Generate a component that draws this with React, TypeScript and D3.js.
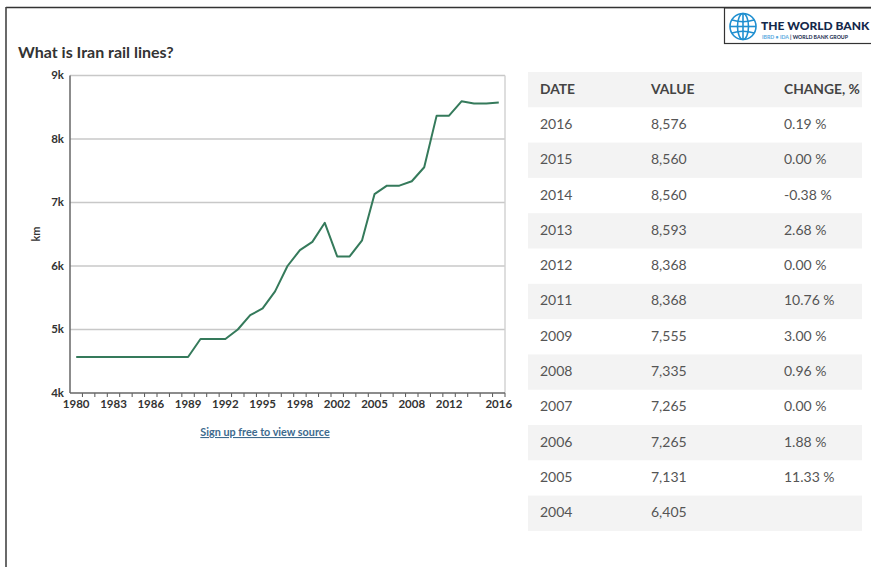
import React, { useEffect, useRef } from "react";
import * as d3 from "d3";

const years = [
  1980, 1981, 1982, 1983, 1984, 1985, 1986, 1987, 1988, 1989, 1990, 1991,
  1992, 1993, 1994, 1995, 1996, 1997, 1998, 1999, 2000, 2002, 2003, 2004,
  2005, 2006, 2007, 2008, 2009, 2011, 2012, 2013, 2014, 2015, 2016,
];
const railKm = [
  4567, 4567, 4567, 4567, 4567, 4567, 4567, 4567, 4567, 4567, 4850, 4850,
  4850, 5000, 5225, 5333, 5600, 6000, 6250, 6380, 6680, 6150, 6150, 6405,
  7131, 7265, 7265, 7335, 7555, 8368, 8368, 8593, 8560, 8560, 8576,
];
const yTicks = [4000, 5000, 6000, 7000, 8000, 9000];
const xLabelYears = [1980, 1983, 1986, 1989, 1992, 1995, 1998, 2002, 2005, 2008, 2012, 2016];

const tableHeader = ["DATE", "VALUE", "CHANGE, %"];
const tableDates = ["2016", "2015", "2014", "2013", "2012", "2011", "2009", "2008", "2007", "2006", "2005", "2004"];
const tableValues = ["8,576", "8,560", "8,560", "8,593", "8,368", "8,368", "7,555", "7,335", "7,265", "7,265", "7,131", "6,405"];
const tableChanges = ["0.19 %", "0.00 %", "-0.38 %", "2.68 %", "0.00 %", "10.76 %", "3.00 %", "0.96 %", "0.00 %", "1.88 %", "11.33 %", ""];

const FONT = "Lato, 'Open Sans', sans-serif";

const App: React.FC = () => {
  const svgRef = useRef<SVGSVGElement | null>(null);

  useEffect(() => {
    if (!svgRef.current) return;
    const svg = d3.select(svgRef.current);
    svg.selectAll("*").remove();

    const width = 871;
    const height = 567;
    svg.attr("width", width).attr("height", height);

    // page frame
    svg.append("line").attr("x1", 6).attr("x2", 871).attr("y1", 7.5).attr("y2", 7.5)
      .attr("stroke", "#333").attr("stroke-width", 1.3);
    svg.append("line").attr("x1", 6).attr("x2", 6).attr("y1", 7).attr("y2", 567)
      .attr("stroke", "#444").attr("stroke-width", 1.6);

    // logo box
    const logo = svg.append("g");
    logo.append("rect").attr("x", 724.5).attr("y", 8).attr("width", 150).attr("height", 35.5)
      .attr("fill", "#fff").attr("stroke", "#333").attr("stroke-width", 1.2);
    const globe = logo.append("g").attr("transform", "translate(743,26.5)")
      .attr("fill", "none").attr("stroke", "#1f8fd0").attr("stroke-width", 1.6);
    globe.append("circle").attr("r", 13);
    globe.append("ellipse").attr("rx", 5.5).attr("ry", 13);
    globe.append("line").attr("x1", 0).attr("x2", 0).attr("y1", -13).attr("y2", 13);
    globe.append("line").attr("x1", -13).attr("x2", 13).attr("y1", 0).attr("y2", 0);
    globe.append("path").attr("d", "M-11,-6.5 Q0,-3 11,-6.5");
    globe.append("path").attr("d", "M-11,6.5 Q0,3 11,6.5");
    logo.append("text").attr("x", 761).attr("y", 30).attr("font-family", FONT)
      .attr("font-weight", 900).attr("font-size", 12)
      .attr("fill", "#14284b").text("THE WORLD BANK");
    const sub = logo.append("text").attr("x", 762).attr("y", 38.5).attr("font-family", FONT)
      .attr("font-weight", 700).attr("font-size", 5.2)
      .attr("textLength", 86).attr("lengthAdjust", "spacingAndGlyphs");
    sub.append("tspan").attr("fill", "#5aa9e0").text("IBRD • IDA ");
    sub.append("tspan").attr("fill", "#14284b").text("| WORLD BANK GROUP");

    // title
    svg.append("text").attr("x", 18).attr("y", 58).attr("font-family", FONT)
      .attr("font-weight", 700).attr("font-size", 16).attr("fill", "#333")
      .text("What is Iran rail lines?");

    // chart
    const plot = { left: 70, right: 505, top: 75.5, bottom: 393 };
    const x = d3.scaleBand<number>().domain(years).range([plot.left, plot.right]);
    const xc = (yr: number) => (x(yr) as number) + x.bandwidth() / 2;
    const y = d3.scaleLinear().domain([4000, 9000]).range([plot.bottom, plot.top]);

    const g = svg.append("g");
    g.selectAll("line.grid")
      .data(yTicks.slice(1))
      .enter()
      .append("line")
      .attr("class", "grid")
      .attr("x1", plot.left).attr("x2", plot.right)
      .attr("y1", (d) => y(d)).attr("y2", (d) => y(d))
      .attr("stroke", "#c8c8c8").attr("stroke-width", 1.4);
    g.append("line").attr("x1", plot.right).attr("x2", plot.right)
      .attr("y1", plot.top).attr("y2", plot.bottom)
      .attr("stroke", "#d0d0d0").attr("stroke-width", 1.4);

    g.selectAll("text.ytick")
      .data(yTicks)
      .enter()
      .append("text")
      .attr("class", "ytick")
      .attr("x", 64).attr("y", (d) => y(d) + 3.5)
      .attr("text-anchor", "end")
      .attr("font-family", FONT).attr("font-weight", 700).attr("font-size", 11.5)
      .attr("fill", "#333")
      .text((d) => `${d / 1000}k`);

    g.append("text")
      .attr("transform", "translate(40,234) rotate(-90)")
      .attr("text-anchor", "middle")
      .attr("font-family", FONT).attr("font-weight", 700).attr("font-size", 11)
      .attr("fill", "#333").text("km");

    // x axis ticks at band edges
    const edges = years.map((yr) => x(yr) as number).concat([plot.right]);
    g.selectAll("line.xtick")
      .data(edges.slice(1))
      .enter()
      .append("line")
      .attr("class", "xtick")
      .attr("x1", (d) => d).attr("x2", (d) => d)
      .attr("y1", plot.bottom).attr("y2", plot.bottom + 4)
      .attr("stroke", "#555").attr("stroke-width", 1);

    g.append("line").attr("x1", plot.left).attr("x2", plot.right)
      .attr("y1", plot.bottom).attr("y2", plot.bottom)
      .attr("stroke", "#666").attr("stroke-width", 1.5);
    g.append("line").attr("x1", plot.left).attr("x2", plot.left)
      .attr("y1", plot.top).attr("y2", plot.bottom)
      .attr("stroke", "#666").attr("stroke-width", 1.5);

    g.selectAll("text.xtick")
      .data(xLabelYears)
      .enter()
      .append("text")
      .attr("class", "xtick")
      .attr("x", (d) => xc(d)).attr("y", plot.bottom + 15)
      .attr("text-anchor", "middle")
      .attr("font-family", FONT).attr("font-weight", 700).attr("font-size", 11.5)
      .attr("fill", "#333")
      .text((d) => d);

    const points = years.map((yr, i) => ({ yr, v: railKm[i] }));
    const line = d3.line<{ yr: number; v: number }>()
      .x((d) => xc(d.yr))
      .y((d) => y(d.v));
    g.append("path").datum(points)
      .attr("fill", "none").attr("stroke", "#357a5b").attr("stroke-width", 2)
      .attr("stroke-linejoin", "round")
      .attr("d", line);

    svg.append("text").attr("x", 265).attr("y", 436).attr("text-anchor", "middle")
      .attr("font-family", FONT).attr("font-weight", 700).attr("font-size", 10.8)
      .attr("fill", "#3d6a8e").attr("text-decoration", "underline")
      .text("Sign up free to view source");

    // table
    const table = svg.append("g");
    const rowH = 35.3;
    const tableTop = 72;
    const cols = [540, 651, 784];
    const rowY = d3.scaleLinear().domain([0, 1]).range([tableTop, tableTop + rowH]);
    const nRows = tableDates.length + 1;
    table.selectAll("rect.row")
      .data(d3.range(nRows).filter((i) => i % 2 === 0))
      .enter()
      .append("rect")
      .attr("class", "row")
      .attr("x", 528).attr("width", 334)
      .attr("y", (i) => rowY(i)).attr("height", rowH)
      .attr("fill", "#f3f3f3");

    table.selectAll("text.head")
      .data(tableHeader)
      .enter()
      .append("text")
      .attr("class", "head")
      .attr("x", (_, i) => cols[i]).attr("y", rowY(0.5) + 4.5)
      .attr("font-family", FONT).attr("font-weight", 700).attr("font-size", 13.8)
      .attr("fill", "#444")
      .text((d) => d);

    const rows = tableDates.map((d, i) => [d, tableValues[i], tableChanges[i]]);
    rows.forEach((r, ri) => {
      table.selectAll(`text.r${ri}`)
        .data(r)
        .enter()
        .append("text")
        .attr("class", `r${ri}`)
        .attr("x", (_, i) => cols[i]).attr("y", rowY(ri + 1.5) + 4)
        .attr("font-family", FONT).attr("font-size", 14)
        .attr("fill", "#555")
        .text((d) => d);
    });
  }, []);

  return (
    <svg
      ref={svgRef}
      style={{ position: "absolute", left: 0, top: 0, background: "#fff" }}
    ></svg>
  );
};

export default App;
